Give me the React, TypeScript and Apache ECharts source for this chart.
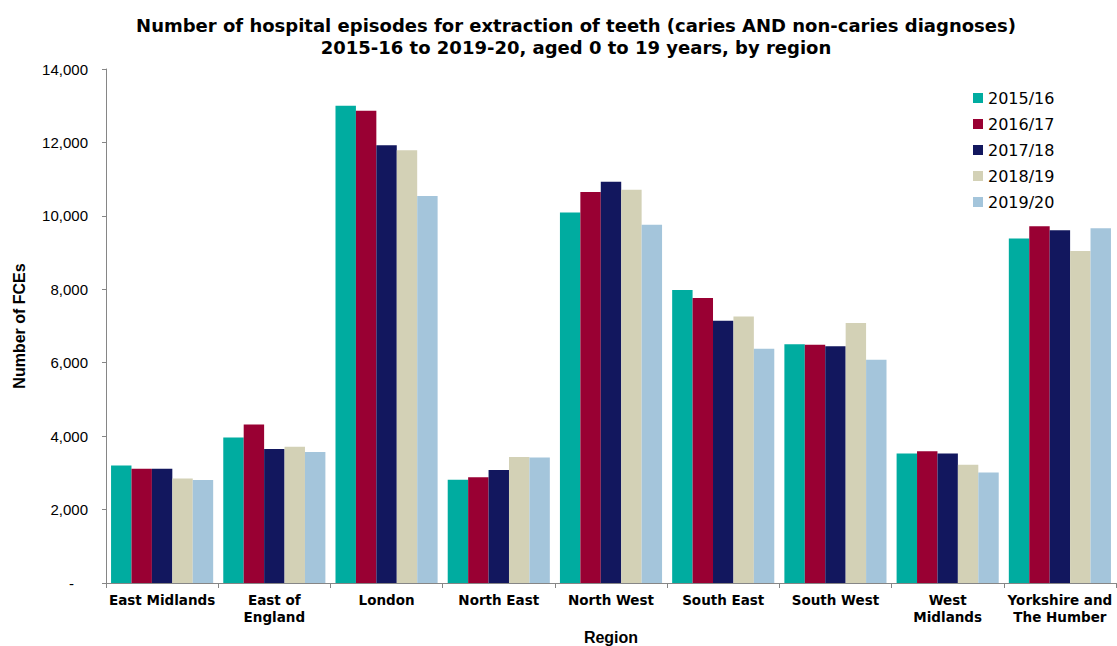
import React, { useEffect, useRef } from "react";
import * as echarts from "echarts";

const regions = [
  "East Midlands",
  "East of\nEngland",
  "London",
  "North East",
  "North West",
  "South East",
  "South West",
  "West\nMidlands",
  "Yorkshire and\nThe Humber",
];

const years = ["2015/16", "2016/17", "2017/18", "2018/19", "2019/20"];

const v2015 = [3200, 3960, 13000, 2810, 10090, 7980, 6500, 3530, 9380];
const v2016 = [3115, 4320, 12860, 2880, 10650, 7760, 6490, 3590, 9720];
const v2017 = [3115, 3650, 11920, 3080, 10930, 7140, 6450, 3530, 9610];
const v2018 = [2845, 3710, 11790, 3435, 10710, 7260, 7085, 3220, 9040];
const v2019 = [2805, 3570, 10540, 3415, 9760, 6380, 6080, 3010, 9665];

const seriesValues = [v2015, v2016, v2017, v2018, v2019];
const colors = ["#00ACA0", "#990033", "#12175E", "#D3D1B6", "#A4C5DB"];

const yTicks = { min: 0, max: 14000, interval: 2000 };

const FONT = "'Liberation Sans', Arial, sans-serif";
const WIDE = "'DejaVu Sans', 'Liberation Sans', sans-serif";

export default function App() {
  const ref = useRef<HTMLDivElement>(null);

  useEffect(() => {
    if (!ref.current) return;
    const chart = echarts.init(ref.current, null, { renderer: "svg" });
    chart.setOption({
      animation: false,
      backgroundColor: "#ffffff",
      title: {
        text:
          "Number of hospital episodes for extraction of teeth (caries AND non-caries diagnoses)\n2015-16 to 2019-20, aged 0 to 19 years, by region",
        left: 571,
        textAlign: "center",
        top: 9,
        textStyle: {
          fontFamily: WIDE,
          fontWeight: "bold",
          fontSize: 18,
          lineHeight: 22,
          color: "#000",
        },
      },
      legend: {
        orient: "vertical",
        left: 968,
        top: 85,
        itemWidth: 10,
        itemHeight: 10,
        itemGap: 10,
        icon: "rect",
        data: years,
        textStyle: {
          fontFamily: WIDE,
          fontSize: 16,
          color: "#000",
        },
      },
      grid: {
        left: 106,
        right: 1,
        top: 69,
        bottom: 63,
        containLabel: false,
        outerBoundsMode: "none",
      },
      xAxis: {
        type: "category",
        data: regions,
        name: "Region",
        nameLocation: "middle",
        nameGap: 41,
        nameTextStyle: { fontFamily: FONT, fontWeight: "bold", fontSize: 16, color: "#000" },
        axisLine: { lineStyle: { color: "#868686", width: 1 } },
        axisTick: { show: true, length: 5, lineStyle: { color: "#868686" } },
        axisLabel: {
          fontFamily: WIDE,
          fontWeight: "bold",
          fontSize: 13.5,
          lineHeight: 17,
          color: "#000",
          margin: 8,
          interval: 0,
        },
      },
      yAxis: {
        type: "value",
        min: yTicks.min,
        max: yTicks.max,
        interval: yTicks.interval,
        name: "Number of FCEs",
        nameLocation: "middle",
        nameGap: 79,
        nameTextStyle: { fontFamily: FONT, fontWeight: "bold", fontSize: 16, color: "#000" },
        splitLine: { show: false },
        axisLine: { show: true, lineStyle: { color: "#868686", width: 1 } },
        axisTick: { show: true, length: 4, lineStyle: { color: "#868686" } },
        axisLabel: {
          fontFamily: FONT,
          fontSize: 15,
          color: "#000",
          margin: 18,
          formatter: (v: number) =>
            v === 0 ? "{dash|-}" : v.toLocaleString("en-US"),
          rich: {
            dash: { fontFamily: FONT, fontSize: 15, color: "#000", padding: [0, 14, 0, 0] },
          },
        },
      },
      series: years.map((y, i) => ({
        name: y,
        type: "bar",
        data: seriesValues[i],
        barGap: "0%",
        barCategoryGap: "9%",
        itemStyle: { color: colors[i] },
      })),
    });
    return () => chart.dispose();
  }, []);

  return <div ref={ref} style={{ width: 1117, height: 646, position: "absolute", left: 0, top: 0 }} />;
}
